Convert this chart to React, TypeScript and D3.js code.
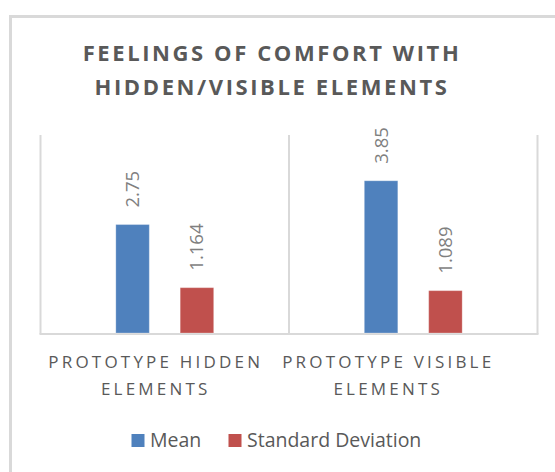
import React from 'react';
import * as d3 from 'd3';

const categories = ['Prototype Hidden Elements', 'Prototype Visible Elements'];
const categoryLines = [
  ['PROTOTYPE HIDDEN', 'ELEMENTS'],
  ['PROTOTYPE VISIBLE', 'ELEMENTS'],
];
const seriesNames = ['Mean', 'Standard Deviation'];
const meanValues = [2.75, 3.85];
const sdValues = [1.164, 1.089];
const valueLabels = [['2.75', '1.164'], ['3.85', '1.089']];
const titleLines = ['FEELINGS OF COMFORT WITH', 'HIDDEN/VISIBLE ELEMENTS'];

const colors = ['#4F81BD', '#C0504D'];
const font = "'Open Sans', sans-serif";

export default function App() {
  const width = 555;
  const height = 472;

  // plot area
  const left = 40.5;
  const right = 537.5;
  const bottom = 334;
  const top = 135;

  const x0 = d3.scaleBand<string>().domain(categories).range([left, right]).padding(0);
  const x1 = d3
    .scaleBand<string>()
    .domain(seriesNames)
    .range([0, x0.bandwidth()])
    .paddingInner(0.48)
    .paddingOuter(1.17);
  const y = d3.scaleLinear().domain([0, 5]).range([bottom, top]);

  const series = [meanValues, sdValues];
  // excel shifts the spaced-out category labels to the left
  const labelShift = [-9, -25];

  return (
    <svg
      width={width}
      height={height}
      style={{ position: 'absolute', left: 0, top: 0, background: '#fff' }}
    >
      {/* chart border */}
      <rect x={10.5} y={16.5} width={620} height={520} fill="#fff" stroke="#d9d9d9" strokeWidth={3} />

      {/* title */}
      {titleLines.map((t, i) => (
        <text
          key={t}
          x={272}
          y={61 + i * 34}
          textAnchor="middle"
          fontFamily={font}
          fontWeight={700}
          fontSize={22}
          letterSpacing={2.6}
          fill="#595959"
        >
          {t}
        </text>
      ))}

      {/* vertical separators */}
      {categories.map((c) => (
        <line key={c} x1={x0(c)} x2={x0(c)} y1={top} y2={bottom} stroke="#d9d9d9" strokeWidth={2} />
      ))}
      <line x1={right} x2={right} y1={top} y2={bottom} stroke="#d9d9d9" strokeWidth={2} />
      <line x1={left - 1} x2={right + 1} y1={bottom} y2={bottom} stroke="#d9d9d9" strokeWidth={2} />

      {/* bars */}
      {categories.map((c, ci) =>
        seriesNames.map((s, si) => {
          const v = series[si][ci];
          const bx = (x0(c) ?? 0) + (x1(s) ?? 0);
          const by = y(v);
          const cx = bx + x1.bandwidth() / 2;
          return (
            <g key={c + s}>
              <rect
                x={bx}
                y={by}
                width={x1.bandwidth()}
                height={bottom - 1 - by}
                fill={colors[si]}
                stroke="#fff"
                strokeOpacity={0.25}
                strokeWidth={1}
              />
              <text
                transform={`translate(${cx},${by - 17}) rotate(-90)`}
                dy="0.35em"
                textAnchor="start"
                fontFamily={font}
                fontSize={18.5}
                fill="#7f7f7f"
              >
                {valueLabels[ci][si]}
              </text>
            </g>
          );
        })
      )}

      {/* category labels */}
      {categories.map((c, ci) =>
        categoryLines[ci].map((line, li) => (
          <text
            key={c + li}
            x={(x0(c) ?? 0) + x0.bandwidth() / 2 + labelShift[ci]}
            y={367.5 + li * 27.3}
            textAnchor="middle"
            fontFamily={font}
            fontSize={17}
            letterSpacing={3.2}
            fill="#595959"
          >
            {line}
          </text>
        ))
      )}

      {/* legend */}
      {seriesNames.map((s, i) => {
        const lx = [131.5, 228.5][i];
        return (
          <g key={s}>
            <rect x={lx} y={434} width={13} height={13} fill={colors[i]} />
            <text x={lx + 18.5} y={447} fontFamily={font} fontSize={19.5} fill="#595959">
              {s}
            </text>
          </g>
        );
      })}
    </svg>
  );
}
